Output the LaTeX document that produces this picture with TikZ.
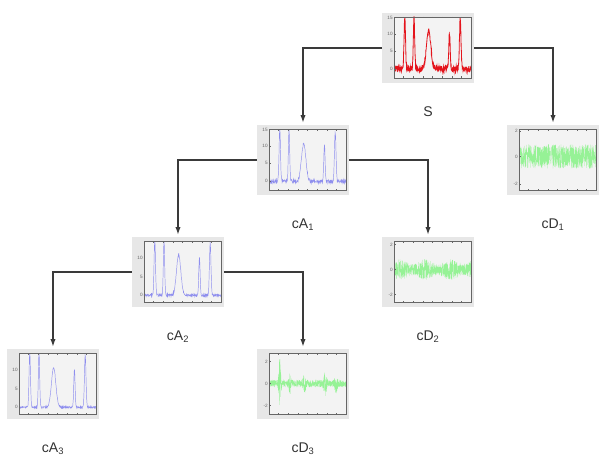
\documentclass[tikz,border=0pt]{standalone}
\usepackage{fontspec}
\setmainfont{Liberation Sans}
\usetikzlibrary{trees,positioning,arrows.meta}

\definecolor{sigred}{HTML}{E4141C}
\definecolor{sigblue}{HTML}{8E8EEE}
\definecolor{siggreen}{HTML}{96F296}
\definecolor{panelbg}{HTML}{E7E7E7}
\definecolor{axbg}{HTML}{F3F3F3}
\definecolor{linkgray}{HTML}{3A3A3A}

% one matlab-like panel: node, line style, y expression in \x, ticks v/label
\newcommand{\wavepanel}[5]{%
  \begin{scope}[shift={(#1.center)}]
    \fill[axbg] (-34,-30) rectangle (43,31);
    \begin{scope}
      \clip (-34,-30) rectangle (43,31);
      \begin{scope}[shift={(-34,-30)}, x=2.31cm, y=1.83cm]
        \draw[#2] plot[domain=0:1, samples=#5] (\x, {#3});
      \end{scope}
    \end{scope}
    \draw[axframe] (-34,-30) rectangle (43,31);
    \foreach \k in {1,...,7}{
      \draw[axframe] ({-34+\k*77/8},31) -- ++(0,-1.5);
      \draw[axframe] ({-34+\k*77/8},-30) -- ++(0,1.5);}
    \foreach \v/\l [count=\i] in {#4}{
      \draw[axframe] (-34,{-30+61*\v}) -- ++(1.5,0);
      \node[ticklbl] (#1t\i) at (-34.5,{-30+61*\v}) {\l};}
  \end{scope}}

\begin{document}
\begin{tikzpicture}[x=0.03cm, y=0.03cm,
  declare function={
    bump(\tv,\cv,\wv)=exp(-min(((\tv-\cv)/\wv)*((\tv-\cv)/\wv),9));
    peaks(\tv)=0.85*bump(\tv,0.14,0.013)+0.85*bump(\tv,0.26,0.012)
      +0.62*bump(\tv,0.45,0.04)+0.6*bump(\tv,0.72,0.012)+0.82*bump(\tv,0.86,0.014);
  },
  panel/.style={fill=panelbg, minimum width=2.76cm, minimum height=2.1cm,
    inner sep=0pt, outer sep=0pt},
  lbl/.style={text=black!80, font=\fontsize{12}{14}\selectfont},
  ticklbl/.style={text=black!60, font=\fontsize{4}{4.5}\selectfont,
    inner sep=0.5pt, anchor=east},
  axframe/.style={draw=black!60, line width=0.35pt},
  approxline/.style={draw=sigblue, line width=0.4pt},
  detailline/.style={draw=siggreen, line width=0.2pt},
  leftkid/.style={edge from parent path={(\tikzparentnode.west) -| (\tikzchildnode.north)}},
  rightkid/.style={edge from parent path={(\tikzparentnode.east) -| (\tikzchildnode.north)}},
  edge from parent/.style={draw=linkgray, line width=1pt,
    -{Latex[length=6.5pt,width=4.5pt]}, shorten >=2pt},
  level distance=3.36cm,
  sibling distance=7.5cm]
  \useasboundingbox (0,0) rectangle (601,-456);
  \pgfmathsetseed{4711}

  \node[panel] (s) at (428,-48) {}
    child[leftkid] {node[panel] (a1) {}
      child[leftkid] {node[panel] (a2) {}
        child[leftkid] {node[panel] (a3) {}}
        child[rightkid] {node[panel] (d3) {}}
      }
      child[rightkid] {node[panel] (d2) {}}
    }
    child[rightkid] {node[panel] (d1) {}};

  % the signals
  \wavepanel{s}{draw=sigred, line width=0.7pt}{0.15+peaks(\x)+0.05*(2*rnd-1)}
    {0.15/0, 0.44/5, 0.72/10, 0.99/15}{300}
  \wavepanel{a1}{approxline}{0.14+peaks(\x)+0.03*(2*rnd-1)}
    {0.15/0, 0.44/5, 0.72/10, 0.99/15}{300}
  \wavepanel{a2}{approxline}{0.11+1.05*peaks(\x)+0.02*(2*rnd-1)}
    {0.11/0, 0.41/5, 0.72/10}{300}
  \wavepanel{a3}{approxline}{0.11+1.05*peaks(\x)+0.015*(2*rnd-1)}
    {0.11/0, 0.41/5, 0.72/10}{300}
  \wavepanel{d1}{detailline}{0.55+0.2*(2*rnd-1)}
    {0.1/-2, 0.55/0, 0.97/2}{700}
  \wavepanel{d2}{detailline}{0.53+(0.13+0.04*sin(1100*\x))*(2*rnd-1)}
    {0.12/-2, 0.53/0, 0.94/2}{700}
  \wavepanel{d3}{detailline}{0.5+(0.06+0.42*bump(\x,0.14,0.015)
      +0.14*bump(\x,0.27,0.015)+0.1*bump(\x,0.46,0.02)+0.16*bump(\x,0.73,0.02)
      +0.1*bump(\x,0.87,0.02))*(2*rnd-1)}
    {0.14/-2, 0.5/0, 0.86/2}{700}

  % names under the panels
  \node[lbl, below=0.6cm of s] (sname) {S};
  \node[lbl, below=0.6cm of a1] (a1name) {cA\textsubscript{1}};
  \node[lbl, below=0.6cm of d1] (d1name) {cD\textsubscript{1}};
  \node[lbl, below=0.6cm of a2] (a2name) {cA\textsubscript{2}};
  \node[lbl, below=0.6cm of d2] (d2name) {cD\textsubscript{2}};
  \node[lbl, below=0.6cm of a3] (a3name) {cA\textsubscript{3}};
  \node[lbl, below=0.6cm of d3] (d3name) {cD\textsubscript{3}};
\end{tikzpicture}
\end{document}
